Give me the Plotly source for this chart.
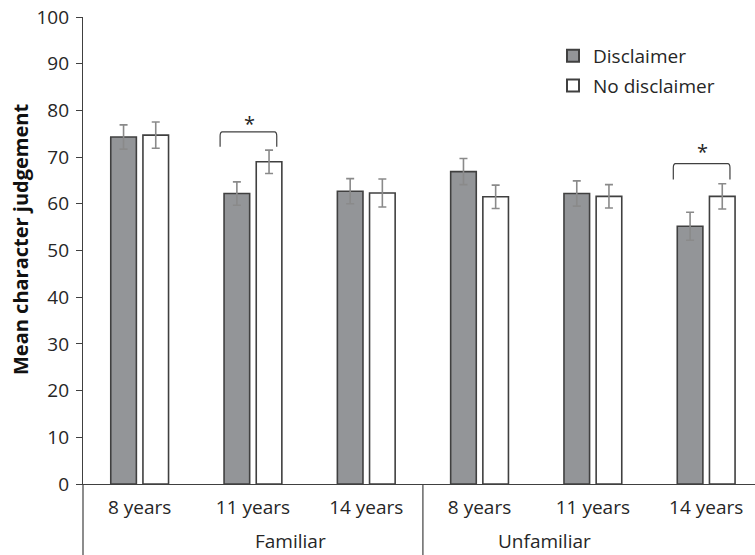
import plotly.graph_objects as go

# Mean character judgement by familiarity and age, with / without disclaimer
groups = ["Familiar", "Unfamiliar"]
ages = ["8 years", "11 years", "14 years", "8 years", "11 years", "14 years"]
positions = [0, 1, 2, 3, 4, 5]

disclaimer = [74.3, 62.2, 62.7, 66.9, 62.2, 55.2]
disclaimer_err = [2.6, 2.5, 2.7, 2.8, 2.7, 3.0]
no_disclaimer = [74.7, 69.0, 62.3, 61.5, 61.6, 61.6]
no_disclaimer_err = [2.8, 2.5, 3.0, 2.5, 2.5, 2.7]

# significant comparisons: (category position, bracket top, leg bottom, star height)
significance = [(1, 75.4, 72.2, 77.2), (5, 68.6, 65.2, 71.2)]

FONT = "Open Sans"
TXT = "#262626"
EDGE = "#404040"
ERR = "#8a8a8a"

W, H = 755, 555
ML, MT, MB = 83, 17, 71
x_range = [-0.5, 5.431]
y_range = [0, 100]
plot_h = H - MT - MB
plot_w = W - ML


def px_to_paper_y(py):
    return (H - MB - py) / plot_h


def px_to_paper_x(px):
    return (px - ML) / plot_w


fig = go.Figure()
fig.add_trace(go.Bar(
    x=positions, y=disclaimer, name="Disclaimer",
    width=0.226, offset=-0.255,
    marker=dict(color="#939598", line=dict(color=EDGE, width=1.6)),
    error_y=dict(type="data", array=disclaimer_err, color=ERR, thickness=1.6, width=4),
    legendgroup="a",
))
fig.add_trace(go.Bar(
    x=positions, y=no_disclaimer, name="No disclaimer",
    width=0.226, offset=0.029,
    marker=dict(color="#ffffff", line=dict(color=EDGE, width=1.6)),
    error_y=dict(type="data", array=no_disclaimer_err, color=ERR, thickness=1.6, width=4),
    legendgroup="b",
))

shapes = []
# significance brackets with rounded corners
for pos, top, leg, _ in significance:
    x0, x1 = pos - 0.29, pos + 0.21
    r = 0.02
    dy = 0.9
    path = (f"M {x0},{leg} L {x0},{top - dy} Q {x0},{top} {x0 + r},{top} "
            f"L {x1 - r},{top} Q {x1},{top} {x1},{top - dy} L {x1},{leg}")
    shapes.append(dict(type="path", path=path, xref="x", yref="y",
                       line=dict(color=EDGE, width=1.2)))

# dividers below the category axis
span = x_range[1] - x_range[0]
drop = MB / plot_h
for xv in [-0.5, 2.5]:
    px = (xv - x_range[0]) / span
    shapes.append(dict(type="line", xref="paper", yref="paper",
                       x0=px, x1=px, y0=0, y1=-drop,
                       line=dict(color=EDGE, width=1.2)))

annotations = []
for pos, top, leg, star in significance:
    annotations.append(dict(x=pos - 0.03, y=star, xref="x", yref="y", text="*",
                            showarrow=False, font=dict(family=FONT, size=20, color=TXT),
                            yanchor="middle"))
for i, g in enumerate(groups):
    cx = (1 + 3 * i - x_range[0]) / span
    annotations.append(dict(x=cx, y=px_to_paper_y(541), xref="paper", yref="paper",
                            text=g, showarrow=False, yanchor="middle",
                            font=dict(family=FONT, size=19, color=TXT)))
annotations.append(dict(x=px_to_paper_x(20), y=px_to_paper_y(240), xref="paper", yref="paper",
                        text="<b>Mean character judgement</b>", textangle=-90,
                        showarrow=False, xanchor="center", yanchor="middle",
                        font=dict(family=FONT, size=20, color="#111111")))

fig.update_layout(
    width=W, height=H,
    margin=dict(l=ML, r=0, t=MT, b=MB, pad=0),
    paper_bgcolor="white", plot_bgcolor="white",
    barmode="overlay",
    showlegend=True,
    legend=dict(x=px_to_paper_x(553), y=px_to_paper_y(37), xanchor="left", yanchor="top",
                font=dict(family=FONT, size=19, color=TXT),
                bgcolor="rgba(0,0,0,0)", tracegroupgap=2,
                itemsizing="constant"),
    shapes=shapes,
    annotations=annotations,
    font=dict(family=FONT, color=TXT),
)
fig.update_xaxes(
    range=x_range, tickmode="array", tickvals=positions, ticktext=ages,
    showline=True, linecolor=EDGE, linewidth=1.2, ticks="",
    showgrid=False, zeroline=False,
    tickfont=dict(family=FONT, size=19, color=TXT),
    ticklabelstandoff=6,
)
fig.update_yaxes(
    range=y_range, tickmode="linear", tick0=0, dtick=10,
    showline=True, linecolor=EDGE, linewidth=1.2,
    ticks="outside", ticklen=6, tickcolor=EDGE, tickwidth=1.2,
    showgrid=False, zeroline=False,
    tickfont=dict(family=FONT, size=19, color=TXT),
    ticklabelstandoff=3,
)

fig.write_html("out.html")
